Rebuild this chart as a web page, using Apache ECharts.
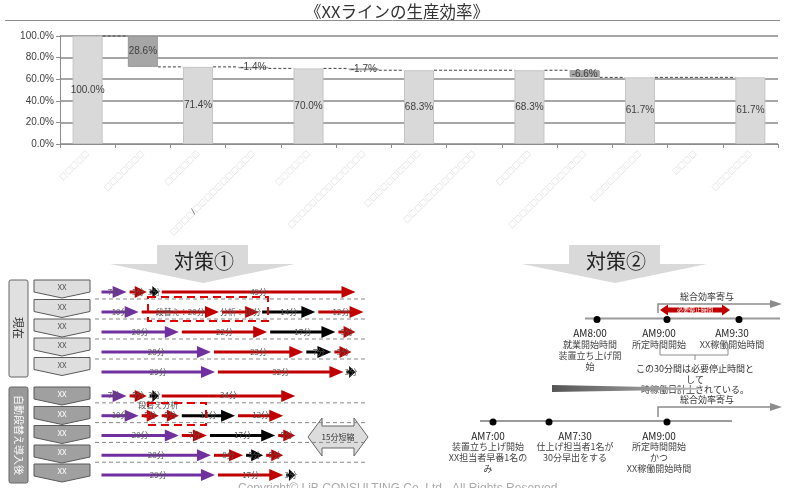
<!DOCTYPE html>
<html><head><meta charset="utf-8">
<script src="https://cdn.jsdelivr.net/npm/echarts@6/dist/echarts.min.js"></script>
<style>html,body{margin:0;padding:0;background:#fff}#c{width:791px;height:488px}</style>
</head><body><div id="c"></div>
<script>
// ---------- data: waterfall ----------
const categories = ['□□□□□','□□□□□□□','□□□□□□','□□□□/□□□□□□□□□□□','□□□□□□','□□□□□□□□□□□□□□','□□□□□□□□□□','□□□□□□□□□□□□□','□□□□□□','□□□□□□□□□□□□□□','□□□□□□□□□','□□□□','□□□□□□□'];
const totals = [100.0, null, 71.4, null, 70.0, null, 68.3, null, 68.3, null, 61.7, null, 61.7];
const deltas = [null, 28.6, null, 1.4, null, 1.7, null, 0, null, 6.6, null, 0, null];
const deltaLabels = [null, '28.6%', null, '-1.4%', null, '-1.7%', null, '', null, '-6.6%', null, '', null];
const yTicks = [0, 20, 40, 60, 80, 100];

// ---------- data: process arrows (minutes) ----------
const currentRows = [
  [[7,'P','7分'],[5,'R','5分'],[3,'B','3分'],[49,'R','49分']],
  [[10,'P','10分'],[20,'R','段替え：20分'],[10,'R','分析：10分'],[14,'B','14分'],[12,'R','12分']],
  [[20,'P','20分'],[22,'R','22分'],[17,'B','17分'],[5,'R','5分']],
  [[28,'P','28分'],[23,'R','23分'],[7,'B','7分'],[5,'R','5分']],
  [[29,'P','29分'],[32,'R','32分'],[3,'B','3分']]
];
const afterRows = [
  [[7,'P','7分'],[5,'R','5分'],[3,'B','3分'],[34,'R','34分']],
  [[10,'P','10分'],[5,'R','段替え\n5分'],[5,'R','分析\n5分'],[14,'B','14分'],[12,'R','12分']],
  [[20,'P','20分'],[7,'R','7分'],[17,'B','17分'],[5,'R','5分']],
  [[28,'P','28分'],[8,'R','8分'],[5,'B','5分'],[5,'R','5分']],
  [[29,'P','29分'],[17,'R','17分'],[3,'B','3分']]
];
const processLabels = ['XX','XX','XX','XX','XX'];

// ---------- data: timelines ----------
const timeline1 = [
  {t:'AM8:00', lines:['就業開始時間','装置立ち上げ開','始']},
  {t:'AM9:00', lines:['所定時間開始']},
  {t:'AM9:30', lines:['XX稼働開始時間']}
];
const timeline2 = [
  {t:'AM7:00', lines:['装置立ち上げ開始','XX担当者早番1名の','み']},
  {t:'AM7:30', lines:['仕上げ担当者1名が','30分早出をする']},
  {t:'AM9:00', lines:['所定時間開始','かつ','XX稼働開始時間']}
];

const FONT = "'Liberation Sans','Noto Sans CJK JP',sans-serif";
const JFONT = "'Noto Sans CJK JP','Liberation Sans',sans-serif";

// ---------- build waterfall ----------
const baseData = [], valData = [], labelTexts = [], levels = [];
let level = 100;
categories.forEach((c, i) => {
  if (totals[i] != null) {
    level = totals[i];
    baseData.push(0);
    valData.push({value: totals[i], itemStyle: {color: '#d9d9d9', borderColor: '#c4c4c4', borderWidth: 1}});
    labelTexts.push(totals[i].toFixed(1) + '%');
  } else {
    const d = deltas[i];
    level = +(level - d).toFixed(1);
    baseData.push(level);
    valData.push({value: d, itemStyle: {color: '#a6a6a6', borderColor: '#999', borderWidth: d ? 1 : 0}});
    labelTexts.push(deltaLabels[i]);
  }
  levels.push(level);
});
const hasBar = categories.map((c, i) => totals[i] != null || (deltas[i] || 0) > 0);
const connectors = [];
for (let i = 0; i < categories.length; i++) {
  if (!hasBar[i]) continue;
  let j = i + 1;
  while (j < categories.length && !hasBar[j]) j++;
  if (j < categories.length) connectors.push([i, j, levels[i]]);
}

// ---------- build arrow segments ----------
const palette = {P: '#7030a0', R: '#c00000', B: '#000000'};
function buildSegs(rows) {
  const segs = [];
  rows.forEach((row, r) => {
    let t = 0;
    row.forEach(s => { segs.push({value: [t, t + s[0], r], color: palette[s[1]], label: s[2]}); t += s[0]; });
  });
  return segs;
}
const curSegs = buildSegs(currentRows), aftSegs = buildSegs(afterRows);

function arrowRenderer(segs) {
  return function (params, api) {
    const seg = segs[params.dataIndex];
    const p1 = api.coord([api.value(0), api.value(2)]);
    const p2 = api.coord([api.value(1), api.value(2)]);
    const x1 = p1[0] + 1.5, x2 = p2[0] - 1.5, y = p1[1];
    const head = Math.min(14, (x2 - x1) * 0.7);
    return {type: 'group', children: [
      {type: 'line', shape: {x1: x1, y1: y, x2: x2 - head + 1, y2: y}, style: {stroke: seg.color, lineWidth: 3}},
      {type: 'polygon', shape: {points: [[x2 - head, y - 6], [x2, y], [x2 - head, y + 6]]}, style: {fill: seg.color}},
      {type: 'text', z2: 5, style: {text: seg.label, x: (x1 + x2) / 2, y: y + 4.5, align: 'center', verticalAlign: 'bottom', fontSize: 8, fontFamily: JFONT, fill: '#555', lineHeight: 10}}
    ]};
  };
}
function sepRenderer(params, api) {
  const cs = params.coordSys;
  const y = api.coord([0, api.value(0) + 0.35])[1];
  return {type: 'line', shape: {x1: cs.x - 5, y1: y, x2: cs.x + cs.width + 10, y2: y}, style: {stroke: '#888', lineWidth: 1, lineDash: [4, 3]}};
}

// ---------- graphic decorations ----------
const G = [];
function txt(x, y, s, size, color, extra) {
  G.push(Object.assign({type: 'text', style: {text: s, x: x, y: y, align: 'center', verticalAlign: 'middle', fontSize: size, fontFamily: JFONT, fill: color}}, extra || {}));
}
// title
txt(397, 12, '《XXラインの生産効率》', 16.5, '#333');
G.push({type: 'line', shape: {x1: 5, y1: 20.5, x2: 780, y2: 20.5}, style: {stroke: '#8c8c8c', lineWidth: 1}});
// banners
function banner(cx, label) {
  G.push({type: 'polygon', shape: {points: [[cx - 46, 245], [cx + 45, 245], [cx + 45, 264], [cx + 92, 264], [cx, 283], [cx - 93, 264], [cx - 46, 264]]}, style: {fill: '#d9d9d9'}});
  txt(cx + 1, 261, label, 20, '#222');
}
banner(203, '対策①');
banner(615, '対策②');
// side labels
G.push({type: 'rect', shape: {x: 9, y: 280, width: 19, height: 97, r: 2}, style: {fill: '#e0e0e0', stroke: '#666', lineWidth: 1}});
G.push({type: 'text', x: 18.5, y: 328, rotation: -Math.PI / 2, style: {text: '現在', x: 0, y: 0, align: 'center', verticalAlign: 'middle', fontSize: 11, fontFamily: JFONT, fill: '#333'}});
G.push({type: 'rect', shape: {x: 9, y: 387, width: 19, height: 96, r: 2}, style: {fill: '#999', stroke: '#666', lineWidth: 1}});
G.push({type: 'text', x: 18.5, y: 435, rotation: -Math.PI / 2, style: {text: '自動段替え導入後', x: 0, y: 0, align: 'center', verticalAlign: 'middle', fontSize: 10, fontFamily: JFONT, fill: '#fff'}});
// chevrons
function chevrons(tops, fill, tcol) {
  tops.forEach((t, k) => {
    G.push({type: 'polygon', shape: {points: [[34, t], [90, t], [90, t + 12], [62, t + 18], [34, t + 12]]}, style: {fill: fill, stroke: '#595959', lineWidth: 1}});
    txt(62, t + 7, processLabels[k], 8, tcol);
  });
}
chevrons([280, 299.5, 319, 338, 357.5], '#dedede', '#555');
chevrons([387, 406.5, 425.5, 445, 464], '#a0a0a0', '#fff');
// red dashed boxes
G.push({type: 'rect', z: 20, shape: {x: 148, y: 297, width: 120, height: 24}, style: {fill: null, stroke: '#e00000', lineWidth: 2, lineDash: [8, 5]}});
G.push({type: 'rect', z: 20, shape: {x: 148, y: 403, width: 58, height: 22}, style: {fill: null, stroke: '#e00000', lineWidth: 2, lineDash: [8, 5]}});
// 15分短縮 double arrow
G.push({type: 'polygon', shape: {points: [[308, 437], [322, 418], [322, 426], [354, 426], [354, 418], [368, 437], [354, 456], [354, 448], [322, 448], [322, 456]]}, style: {fill: '#dcdcdc', stroke: '#666', lineWidth: 1}});
txt(338, 437, '15分短縮', 8, '#333');

// timeline helpers
function effArrow(yTop, yStem, label) {
  txt(707, yTop - 7, label, 9, '#333');
  G.push({type: 'polyline', shape: {points: [[658, yStem], [658, yTop], [772, yTop]]}, style: {stroke: '#8c8c8c', lineWidth: 1.5, fill: null}});
  G.push({type: 'polygon', shape: {points: [[770, yTop - 4], [782, yTop], [770, yTop + 4]]}, style: {fill: '#8c8c8c'}});
}
function timeline(items, xs, txs, y, x1, x2) {
  G.push({type: 'line', shape: {x1: x1, y1: y, x2: x2, y2: y}, style: {stroke: '#9a9a9a', lineWidth: 2}});
  items.forEach((it, k) => {
    G.push({type: 'circle', shape: {cx: xs[k], cy: y + 1, r: 3.5}, style: {fill: '#000'}});
    txt(txs[k], y + 15, it.t, 10, '#222', null);
    it.lines.forEach((l, m) => txt(txs[k], y + 26 + m * 11, l, 9, '#444'));
  });
}
effArrow(304, 313, '総合効率寄与');
timeline(timeline1, [597, 667, 739], [590, 659, 732], 318.5, 585, 780);
// red double arrow
G.push({type: 'polygon', shape: {points: [[660, 310], [668, 304.5], [668, 307.5], [722, 307.5], [722, 304.5], [730, 310], [722, 315.5], [722, 312.5], [668, 312.5], [668, 315.5]]}, style: {fill: '#c00000'}});
txt(695, 310, '必要停止時間', 6, '#fff');
// bracket
G.push({type: 'polyline', shape: {points: [[660, 344], [660, 355], [728, 355], [728, 344]]}, style: {stroke: '#8c8c8c', lineWidth: 1, fill: null}});
G.push({type: 'line', shape: {x1: 695, y1: 355, x2: 695, y2: 360}, style: {stroke: '#8c8c8c', lineWidth: 1}});
txt(695, 369, 'この30分間は必要停止時間と', 9, '#333');
txt(695, 379.5, 'して', 9, '#333');
txt(695, 390, '時稼働日計上されている。', 9, '#333');
// wedge divider
G.push({type: 'polygon', shape: {points: [[552, 385], [700, 388], [700, 389.5], [552, 392]]}, style: {fill: {type: 'linear', x: 0, y: 0, x2: 1, y2: 0, colorStops: [{offset: 0, color: '#555'}, {offset: 1, color: '#bbb'}]}}});
effArrow(407, 417, '総合効率寄与');
timeline(timeline2, [493, 549, 667], [488, 575, 659], 421, 480, 732);
// copyright
G.push({type: 'text', style: {text: 'Copyright© LiB CONSULTING Co.,Ltd.  All Rights Reserved.', x: 238, y: 483, align: 'left', verticalAlign: 'top', fontSize: 12, fontFamily: FONT, fill: '#aaa'}});

// ---------- chart ----------
const chart = echarts.init(document.getElementById('c'), null, {renderer: 'canvas'});
chart.setOption({
  animation: false,
  backgroundColor: '#fff',
  grid: [
    {left: 60, right: 13, top: 36, bottom: 344, containLabel: false, outerBoundsMode: 'none'},
    {left: 100, right: 434, top: 282, bottom: 106, containLabel: false, outerBoundsMode: 'none'},
    {left: 100, right: 434, top: 386, bottom: 3, containLabel: false, outerBoundsMode: 'none'}
  ],
  xAxis: [
    {type: 'category', gridIndex: 0, data: categories,
      axisLine: {show: true, lineStyle: {color: '#8c8c8c', width: 1}},
      axisTick: {show: true, length: 4, lineStyle: {color: '#8c8c8c'}},
      axisLabel: {interval: 0, rotate: 45, margin: 8, fontSize: 8, color: '#dedede', fontFamily: 'DejaVu Sans',
        formatter: v => v.split('/').map(p => '{t|' + p + '}').join('{s|/}'),
        rich: {t: {fontSize: 8, color: '#dedede', fontFamily: 'DejaVu Sans'}, s: {fontSize: 8, color: '#555', fontFamily: 'DejaVu Sans'}}},
      splitLine: {show: false}},
    {type: 'value', gridIndex: 1, min: 0, max: 64, show: false},
    {type: 'value', gridIndex: 2, min: 0, max: 64, show: false}
  ],
  yAxis: [
    {type: 'value', gridIndex: 0, min: yTicks[0], max: yTicks[yTicks.length - 1], interval: 20,
      axisLine: {show: true, lineStyle: {color: '#8c8c8c'}},
      axisTick: {show: true, length: 4, lineStyle: {color: '#8c8c8c'}},
      axisLabel: {formatter: v => v.toFixed(1) + '%', fontSize: 10, color: '#404040', fontFamily: FONT, margin: 6},
      splitLine: {show: true, lineStyle: {color: '#a6a6a6', width: 2}}},
    {type: 'value', gridIndex: 1, min: -0.5, max: 4.5, inverse: true, show: false},
    {type: 'value', gridIndex: 2, min: -0.5, max: 4.5, inverse: true, show: false}
  ],
  series: [
    {type: 'bar', xAxisIndex: 0, yAxisIndex: 0, stack: 'wf', data: baseData, barWidth: 30, silent: true,
      itemStyle: {color: 'rgba(0,0,0,0)'}, label: {show: false}},
    {type: 'bar', xAxisIndex: 0, yAxisIndex: 0, stack: 'wf', data: valData, barWidth: 30,
      label: {show: true, position: 'inside', formatter: p => labelTexts[p.dataIndex] || '', fontSize: 10, color: '#404040', fontFamily: FONT}},
    {type: 'custom', xAxisIndex: 0, yAxisIndex: 0, data: connectors, z: 5,
      renderItem: (params, api) => {
        const a = api.coord([api.value(0), api.value(2)]);
        const b = api.coord([api.value(1), api.value(2)]);
        return {type: 'line', shape: {x1: a[0] + 15, y1: a[1], x2: b[0] - 15, y2: b[1]}, style: {stroke: '#404040', lineWidth: 1, lineDash: [3, 2]}};
      }},
    {type: 'custom', xAxisIndex: 1, yAxisIndex: 1, data: [[0], [1], [2], [3]], renderItem: sepRenderer, z: 1},
    {type: 'custom', xAxisIndex: 2, yAxisIndex: 2, data: [[0], [1], [2], [3]], renderItem: sepRenderer, z: 1},
    {type: 'custom', xAxisIndex: 1, yAxisIndex: 1, data: curSegs.map(s => s.value), renderItem: arrowRenderer(curSegs), z: 3},
    {type: 'custom', xAxisIndex: 2, yAxisIndex: 2, data: aftSegs.map(s => s.value), renderItem: arrowRenderer(aftSegs), z: 3}
  ],
  graphic: {elements: G}
});
</script>
</body></html>
